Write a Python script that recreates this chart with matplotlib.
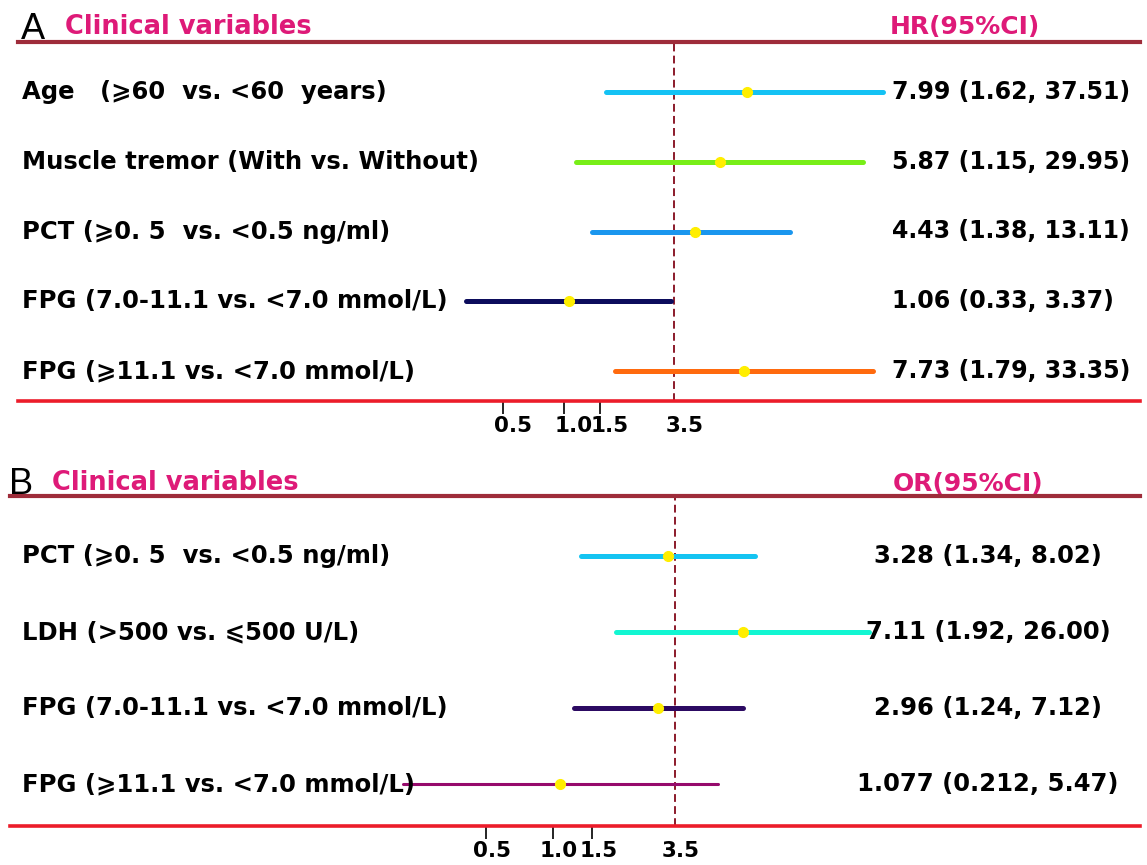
import numpy as np
import matplotlib
matplotlib.use("Agg")
import matplotlib.pyplot as plt
import matplotlib.transforms as mtransforms

plt.rcParams['font.family'] = ['DejaVu Sans']
plt.rcParams['font.weight'] = 'bold'

# ---------------- data ----------------
labels_a = ["Age   (⩾60  vs. <60  years)",
            "Muscle tremor (With vs. Without)",
            "PCT (⩾0. 5  vs. <0.5 ng/ml)",
            "FPG (7.0-11.1 vs. <7.0 mmol/L)",
            "FPG (⩾11.1 vs. <7.0 mmol/L)"]
hr_a = [7.99, 5.87, 4.43, 1.06, 7.73]
lo_a = [1.62, 1.15, 1.38, 0.33, 1.79]
hi_a = [37.51, 29.95, 13.11, 3.37, 33.35]
txt_a = ["7.99 (1.62, 37.51)", "5.87 (1.15, 29.95)", "4.43 (1.38, 13.11)",
         "1.06 (0.33, 3.37)", "7.73 (1.79, 33.35)"]
col_a = ["#14c2f4", "#78ee18", "#1a96ee", "#0c0c5c", "#ff6a0e"]

labels_b = ["PCT (⩾0. 5  vs. <0.5 ng/ml)",
            "LDH (>500 vs. ⩽500 U/L)",
            "FPG (7.0-11.1 vs. <7.0 mmol/L)",
            "FPG (⩾11.1 vs. <7.0 mmol/L)"]
or_b = [3.28, 7.11, 2.96, 1.077]
lo_b = [1.34, 1.92, 1.24, 0.212]
hi_b = [8.02, 26.00, 7.12, 5.47]
txt_b = ["3.28 (1.34, 8.02)", "7.11 (1.92, 26.00)", "2.96 (1.24, 7.12)",
         "1.077 (0.212, 5.47)"]
col_b = ["#14c4f2", "#12f6d2", "#2c0a62", "#960a6c"]
lw_b = [3.6, 3.6, 3.6, 2.2]

ticks = [0.5, 1.0, 1.5, 3.5]
tick_labels = ["0.5", "1.0", "1.5", "3.5"]
ref = 3.5

W, H = 1147, 865
fig = plt.figure(figsize=(W / 100, H / 100), dpi=100)


def fx(px):
    return px / W


def fy(py):
    return 1 - py / H


def panel(x0, x1, ytop, ybot, row0, step, one_px, ppu, pad):
    ax = fig.add_axes([fx(x0), fy(ybot), fx(x1) - fx(x0), (ybot - ytop) / H])
    ax.set_xscale('log')
    ax.set_xlim(np.exp((x0 - one_px) / ppu), np.exp((x1 - one_px) / ppu))
    ax.set_ylim((ybot - row0) / step, (ytop - row0) / step)
    for s in ['left', 'right']:
        ax.spines[s].set_visible(False)
    ax.spines['top'].set_color('#9e2c3a')
    ax.spines['top'].set_linewidth(3)
    ax.spines['bottom'].set_color('#ec1c2a')
    ax.spines['bottom'].set_linewidth(2.6)
    ax.set_yticks([])
    ax.minorticks_off()
    ax.set_xticks(ticks)
    ax.set_xticklabels(tick_labels)
    ax.tick_params(axis='x', direction='out', length=9, width=1.2,
                   labelsize=15.5, pad=pad)
    ax.xaxis.get_major_ticks()[3].tick1line.set_visible(False)
    ax.axvline(ref, color='#8b1a2a', lw=1.4, ls=(0, (4, 2.2)), zorder=1)
    return ax


# ============================ A ============================
axA = panel(18, 1140, 42, 401, 92, 69.75, 564, 88, 2)
for i in range(len(hr_a)):
    axA.plot([lo_a[i], hi_a[i]], [i, i], color=col_a[i], lw=3.6,
             solid_capstyle='round', zorder=2)
    axA.plot(hr_a[i], i, 'o', color='#ffee00', ms=7, zorder=3)
    axA.text(0.0036, i, labels_a[i], transform=axA.get_yaxis_transform(),
             ha='left', va='center', fontsize=17.5)
    axA.text(0.779, i, txt_a[i], transform=axA.get_yaxis_transform(),
             ha='left', va='center', fontsize=17)
off = mtransforms.ScaledTranslation(10 / 100, 0, fig.dpi_scale_trans)
for lab in axA.get_xticklabels():
    lab.set_transform(lab.get_transform() + off)

fig.text(fx(21), fy(39), "A", fontsize=26, fontweight='normal',
         family='Liberation Sans', va='baseline')
fig.text(fx(65), fy(34), "Clinical variables", fontsize=18.5,
         color='#de1a78', va='baseline')
fig.text(fx(890), fy(34), "HR(95%CI)", fontsize=18, color='#de1a78',
         va='baseline')

# ============================ B ============================
axB = panel(10, 1140, 496, 826, 556, 76, 553, 97, 2)
for i in range(len(or_b)):
    axB.plot([lo_b[i], hi_b[i]], [i, i], color=col_b[i], lw=lw_b[i],
             solid_capstyle='round', zorder=2)
    axB.plot(or_b[i], i, 'o', color='#ffee00', ms=7, zorder=3)
    axB.text(0.0106, i, labels_b[i], transform=axB.get_yaxis_transform(),
             ha='left', va='center', fontsize=17.5)
    axB.text(0.8655, i, txt_b[i], transform=axB.get_yaxis_transform(),
             ha='center', va='center', fontsize=17.5)
off = mtransforms.ScaledTranslation(6 / 100, 0, fig.dpi_scale_trans)
for lab in axB.get_xticklabels():
    lab.set_transform(lab.get_transform() + off)

fig.text(fx(9), fy(494), "B", fontsize=26, fontweight='normal',
         family='Liberation Sans', va='baseline')
fig.text(fx(52), fy(490), "Clinical variables", fontsize=18.5,
         color='#de1a78', va='baseline')
fig.text(fx(893), fy(491), "OR(95%CI)", fontsize=18, color='#de1a78',
         va='baseline')

fig.savefig("out.png", dpi=100)
